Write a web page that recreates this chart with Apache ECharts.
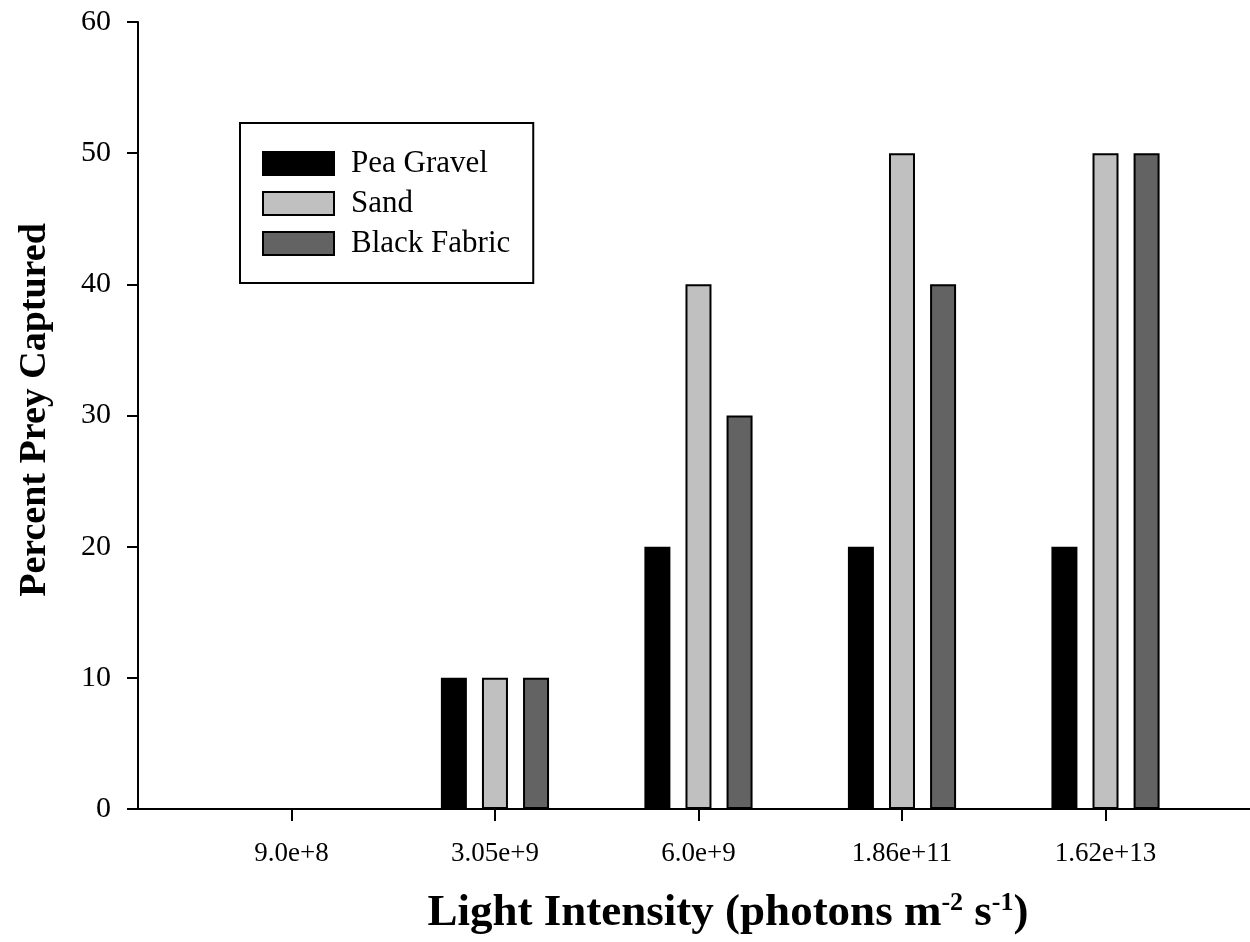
<!DOCTYPE html>
<html>
<head>
<meta charset="utf-8">
<script src="https://cdn.jsdelivr.net/npm/echarts@6/dist/echarts.min.js"></script>
<style>
html,body{margin:0;padding:0;background:#fff;}
#chart{width:1250px;height:942px;}
</style>
</head>
<body>
<div id="chart"></div>
<script>
var categories = ['9.0e+8', '3.05e+9', '6.0e+9', '1.86e+11', '1.62e+13'];
var peaGravel = [0, 10, 20, 20, 20];
var sand = [0, 10, 40, 50, 50];
var blackFabric = [0, 10, 30, 40, 50];
var yTicks = [0, 10, 20, 30, 40, 50, 60];

var FONT = '"Liberation Serif", "Times New Roman", serif';
var catIdx = categories.map(function (c, i) { return i; });
function pairs(vals) { return vals.map(function (v, i) { return [i, v]; }); }

var chart = echarts.init(document.getElementById('chart'), null, { renderer: 'canvas' });
var barCommon = {
  type: 'bar',
  barWidth: 26,
  barGap: '58%',
  animation: false
};
chart.setOption({
  backgroundColor: '#ffffff',
  animation: false,
  grid: { left: 138, right: 0, top: 22, bottom: 133, containLabel: false },
  legend: {
    orient: 'vertical',
    left: 240,
    top: 123,
    padding: [25, 23, 24, 22],
    backgroundColor: '#ffffff',
    borderColor: '#000000',
    borderWidth: 2,
    borderRadius: 0,
    itemWidth: 71,
    itemHeight: 23,
    itemGap: 9,
    icon: 'rect',
    data: ['Pea Gravel', 'Sand', 'Black Fabric'],
    textStyle: { fontFamily: FONT, fontSize: 31, color: '#000', lineHeight: 30, padding: [0, 0, 0, 12] }
  },
  xAxis: {
    type: 'value',
    min: -0.754,
    max: 4.71,
    splitLine: { show: false },
    axisLine: { show: true, onZero: false, lineStyle: { color: '#000', width: 2 } },
    axisTick: { show: true, customValues: catIdx, length: 12, lineStyle: { color: '#000', width: 2 } },
    axisLabel: {
      customValues: catIdx,
      formatter: function (v) { return categories[Math.round(v)]; },
      fontFamily: FONT, fontSize: 27, color: '#000', margin: 31
    }
  },
  yAxis: {
    type: 'value',
    min: yTicks[0],
    max: yTicks[yTicks.length - 1],
    interval: 10,
    splitLine: { show: false },
    axisLine: { show: true, onZero: false, lineStyle: { color: '#000', width: 2 } },
    axisTick: { show: true, length: 11, lineStyle: { color: '#000', width: 2 } },
    axisLabel: { fontFamily: FONT, fontSize: 30, color: '#000', margin: 27 }
  },
  graphic: [
    {
      type: 'text',
      x: 35, y: 410,
      rotation: Math.PI / 2,
      style: {
        text: 'Percent Prey Captured',
        fontFamily: FONT, fontSize: 38, fontWeight: 'bold', fill: '#000',
        textAlign: 'center', textVerticalAlign: 'middle'
      }
    },
    {
      type: 'text',
      x: 728, y: 913,
      style: {
        text: 'Light Intensity (photons m{sup|-2} s{sup|-1})',
        fontFamily: FONT, fontSize: 45, fontWeight: 'bold', fill: '#000',
        textAlign: 'center', textVerticalAlign: 'middle',
        rich: {
          sup: { fontFamily: FONT, fontSize: 26, fontWeight: 'bold', fill: '#000', verticalAlign: 'top', lineHeight: 26 }
        }
      }
    }
  ],
  series: [
    Object.assign({}, barCommon, {
      name: 'Pea Gravel',
      data: pairs(peaGravel),
      itemStyle: { color: '#000000', borderColor: '#000000', borderWidth: 2 }
    }),
    Object.assign({}, barCommon, {
      name: 'Sand',
      data: pairs(sand),
      itemStyle: { color: '#c0c0c0', borderColor: '#000000', borderWidth: 2 }
    }),
    Object.assign({}, barCommon, {
      name: 'Black Fabric',
      data: pairs(blackFabric),
      itemStyle: { color: '#636363', borderColor: '#000000', borderWidth: 2 }
    })
  ]
});
</script>
</body>
</html>
